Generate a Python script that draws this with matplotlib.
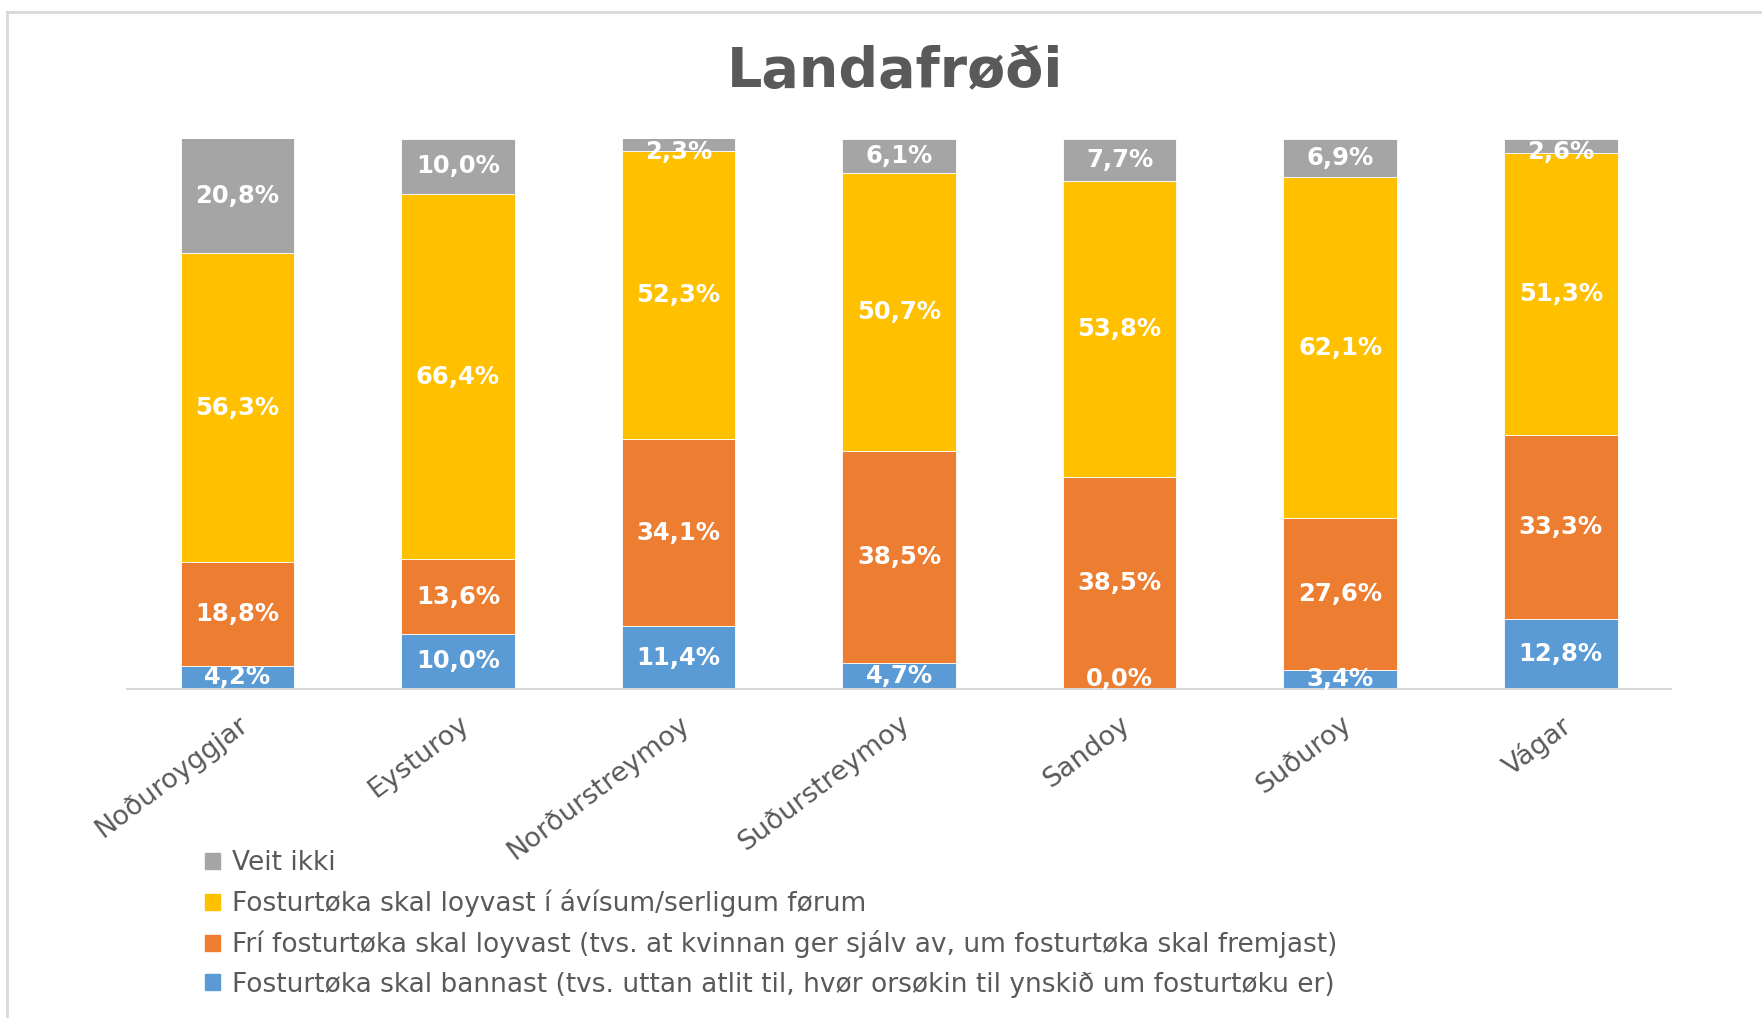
import matplotlib.pyplot as plt
import numpy as np
from matplotlib.lines import Line2D
from matplotlib.patches import Patch

plt.rcParams['font.family'] = ['DejaVu Sans']

# data (percent), bottom to top
categories = ['Noðuroyggjar', 'Eysturoy', 'Norðurstreymoy', 'Suðurstreymoy',
              'Sandoy', 'Suðuroy', 'Vágar']
bannast = [4.2, 10.0, 11.4, 4.7, 0.0, 3.4, 12.8]
fri = [18.8, 13.6, 34.1, 38.5, 38.5, 27.6, 33.3]
avisum = [56.3, 66.4, 52.3, 50.7, 53.8, 62.1, 51.3]
veit_ikki = [20.8, 10.0, 2.3, 6.1, 7.7, 6.9, 2.6]

series_names = [
    'Fosturtøka skal bannast (tvs. uttan atlit til, hvør orsøkin til ynskið um fosturtøku er)',
    'Frí fosturtøka skal loyvast (tvs. at kvinnan ger sjálv av, um fosturtøka skal fremjast)',
    'Fosturtøka skal loyvast í ávísum/serligum førum',
    'Veit ikki',
]
colors = ['#5B9BD5', '#ED7D31', '#FFC000', '#A5A5A5']
txt_gray = '#595959'

fig = plt.figure(figsize=(17.62, 10.18), dpi=100)
ax = fig.add_axes([0.0721, 0.3232, 0.8763, 0.5403])

x = np.arange(len(categories))
bottom = np.zeros(len(categories))
for vals, name, col in zip([bannast, fri, avisum, veit_ikki], series_names, colors):
    vals = np.array(vals)
    ax.bar(x, vals, width=0.515, bottom=bottom, color=col, label=name,
           edgecolor='white', linewidth=0.6)
    for xi, b, v in zip(x, bottom, vals):
        yc = b + v / 2
        yc = min(max(yc, 1.9), 97.6)
        ax.text(xi, yc, f'{v:.1f}%'.replace('.', ','), ha='center', va='center',
                color='white', fontsize=17.5, fontweight='bold')
    bottom += vals

ax.set_xlim(-0.5, len(categories) - 0.5)
ax.set_ylim(0, 100)
ax.set_yticks([])
for s in ['left', 'right', 'top']:
    ax.spines[s].set_visible(False)
ax.spines['bottom'].set_color('#D9D9D9')
ax.spines['bottom'].set_linewidth(1.5)
ax.set_xticks(x)
ax.set_xticklabels(categories, rotation=37, ha='right', rotation_mode='anchor',
                   fontsize=19.5, color=txt_gray)
ax.tick_params(axis='x', length=0, pad=16)

fig.text(0.508, 0.930, 'Landafrøði', ha='center', va='center', fontsize=40,
         fontweight='bold', color=txt_gray)

handles = [Patch(color=c) for c in colors][::-1]
fig.legend(handles, series_names[::-1], loc='upper left',
           bbox_to_anchor=(0.109, 0.178), frameon=False, fontsize=19,
           labelcolor=txt_gray, handlelength=0.55, handleheight=0.55,
           handletextpad=0.45, labelspacing=0.5, borderpad=0)

# figure border (left and top visible)
fig.add_artist(Line2D([0.004, 0.004], [0, 0.988], transform=fig.transFigure,
                      color='#D9D9D9', linewidth=2))
fig.add_artist(Line2D([0.004, 1.0], [0.988, 0.988], transform=fig.transFigure,
                      color='#D9D9D9', linewidth=2))

fig.savefig('out.png', dpi=100)
